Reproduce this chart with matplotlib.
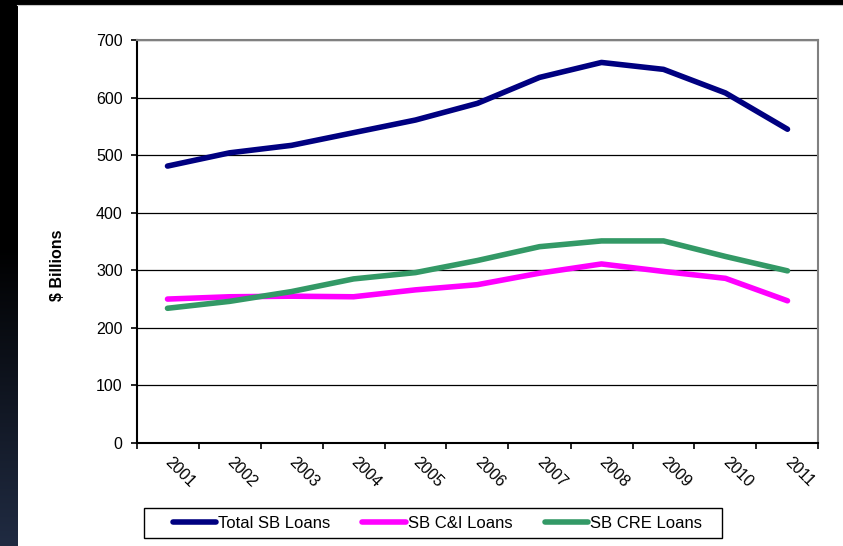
import numpy as np
import matplotlib
matplotlib.use("Agg")
import matplotlib.pyplot as plt
from matplotlib.patches import Rectangle
from matplotlib.lines import Line2D
from matplotlib.transforms import ScaledTranslation

plt.rcParams['font.family'] = ['Liberation Sans', 'DejaVu Sans']

years = ['2001', '2002', '2003', '2004', '2005', '2006',
         '2007', '2008', '2009', '2010', '2011']
total_sb = [481, 504, 517, 539, 561, 590, 635, 661, 649, 608, 545]
sb_ci = [250, 254, 255, 254, 266, 275, 295, 311, 298, 286, 247]
sb_cre = [234, 246, 263, 285, 296, 317, 341, 351, 351, 324, 299]

W, H = 843, 546
fig = plt.figure(figsize=(W / 100, H / 100), dpi=100)
fig.patch.set_facecolor('black')

# white slide area with the dark border strip on the left and top
fig.add_artist(Rectangle((18 / W, 0), 1 - 18 / W, 1 - 6 / H,
                         transform=fig.transFigure, facecolor='white',
                         edgecolor='none', zorder=0))
fig.add_artist(Line2D([17 / W, 1], [1 - 4.5 / H] * 2, transform=fig.transFigure,
                      color='#c8c8c8', lw=0.8))
axg = fig.add_axes([0, 0, 17.5 / W, 1])
t = np.linspace(0, 1, 256)
ramp = np.clip((t - 0.45) / 0.55, 0, 1)[:, None]
grad = np.zeros((256, 1, 3))
grad[..., 0] = ramp * 0x20 / 255
grad[..., 1] = ramp * 0x2b / 255
grad[..., 2] = ramp * 0x42 / 255
axg.imshow(grad, aspect='auto', interpolation='bilinear')
axg.axis('off')

ax = fig.add_axes([136.5 / W, (H - 443) / H, (818.5 - 136.5) / W, (443 - 40) / H])
x = np.arange(len(years))

ax.plot(x, total_sb, color='#000080', lw=4.0, solid_capstyle='round',
        solid_joinstyle='round', label='Total SB Loans')
ax.plot(x, sb_ci, color='#ff00ff', lw=4.0, solid_capstyle='round',
        solid_joinstyle='round', label='SB C&I Loans')
ax.plot(x, sb_cre, color='#339966', lw=4.0, solid_capstyle='round',
        solid_joinstyle='round', label='SB CRE Loans')

ax.set_xlim(-0.5, len(years) - 0.5)
ax.set_ylim(0, 700)
ax.set_yticks(np.arange(0, 701, 100))
ax.yaxis.grid(True, color='black', lw=0.9)
ax.set_axisbelow(True)

# ticks sit between the categories, labels under each category
ax.set_xticks(np.arange(-0.5, len(years)))
ax.set_xticklabels([])
ax.set_xticks(x, minor=True)
ax.set_xticklabels(years, minor=True)
ax.tick_params(axis='x', which='major', length=4, width=1.2, direction='out')
ax.tick_params(axis='x', which='minor', length=0, pad=21, labelsize=11.5)
ax.tick_params(axis='y', length=4, width=1.2, direction='out', pad=6,
               labelsize=11.5)
off = ScaledTranslation(12.5 / 100, 0, fig.dpi_scale_trans)
for lbl in ax.get_xticklabels(minor=True):
    lbl.set_rotation(-45)
    lbl.set_ha('center')
    lbl.set_va('center')
    lbl.set_rotation_mode('anchor')
    lbl.set_transform(lbl.get_transform() + off)

for side in ('left', 'bottom'):
    ax.spines[side].set_color('black')
    ax.spines[side].set_linewidth(1.5)
for side in ('top', 'right'):
    ax.spines[side].set_color('#808080')
    ax.spines[side].set_linewidth(1.5)

fig.text(57 / W, 1 - 265 / H, '$ Billions', rotation=90, ha='center',
         va='center', fontsize=11.5, fontweight='bold')

# legend entries without frame, box drawn separately
leg = ax.legend(loc='center', bbox_to_anchor=(437.5 / W, 1 - 523 / H),
                bbox_transform=fig.transFigure, ncol=3, fontsize=12,
                frameon=False, handlelength=2.6,
                handletextpad=0.15, columnspacing=1.9, borderpad=0,
                borderaxespad=0)
fig.add_artist(Rectangle((144 / W, 1 - 538 / H), (722 - 144) / W, 30 / H,
                         transform=fig.transFigure, facecolor='none',
                         edgecolor='black', lw=1.0))

fig.savefig('out.png', dpi=100, facecolor=fig.get_facecolor())
